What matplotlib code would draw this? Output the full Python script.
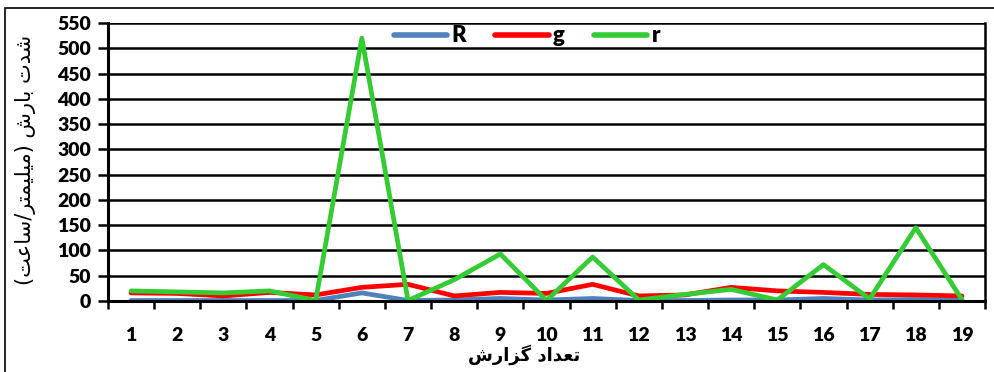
import matplotlib

matplotlib.use("Agg")
import matplotlib.pyplot as plt
from matplotlib.patches import Rectangle

# report numbers and three series
reports = list(range(1, 20))
R = [1, 1, 1, 1, 1, 16, 1, 2, 5, 2, 5, 1, 1, 2, 2, 5, 2, 3, 2]
g = [16, 15, 10, 17, 12, 27, 33, 10, 17, 15, 33, 10, 12, 27, 20, 17, 13, 12, 10]
r = [20, 18, 16, 20, 1, 520, 1, 42, 93, 1, 87, 2, 13, 23, 2, 72, 4, 145, 3]

y_label = "شدت بارش (میلیمتر/ساعت)"
x_label = "تعداد گزارش"

# Arabic presentation forms: isolated, final, initial, medial
FORMS = {
    "ا": ("\uFE8D", "\uFE8E", None, None),
    "ب": ("\uFE8F", "\uFE90", "\uFE91", "\uFE92"),
    "ت": ("\uFE95", "\uFE96", "\uFE97", "\uFE98"),
    "د": ("\uFEA9", "\uFEAA", None, None),
    "ر": ("\uFEAD", "\uFEAE", None, None),
    "ز": ("\uFEAF", "\uFEB0", None, None),
    "س": ("\uFEB1", "\uFEB2", "\uFEB3", "\uFEB4"),
    "ش": ("\uFEB5", "\uFEB6", "\uFEB7", "\uFEB8"),
    "ع": ("\uFEC9", "\uFECA", "\uFECB", "\uFECC"),
    "ل": ("\uFEDD", "\uFEDE", "\uFEDF", "\uFEE0"),
    "م": ("\uFEE1", "\uFEE2", "\uFEE3", "\uFEE4"),
    "ی": ("\uFBFC", "\uFBFD", "\uFBFE", "\uFBFF"),
    "گ": ("\uFB92", "\uFB93", "\uFB94", "\uFB95"),
}
MIRROR = {"(": ")", ")": "("}


def shape_rtl(text):
    out = []
    for i, ch in enumerate(text):
        if ch not in FORMS:
            out.append(MIRROR.get(ch, ch))
            continue
        prev = text[i - 1] if i > 0 else ""
        nxt = text[i + 1] if i + 1 < len(text) else ""
        join_prev = prev in FORMS and FORMS[prev][2] is not None
        join_next = nxt in FORMS and FORMS[ch][2] is not None
        isol, fin, ini, med = FORMS[ch]
        if join_prev and join_next:
            out.append(med)
        elif join_prev:
            out.append(fin)
        elif join_next:
            out.append(ini)
        else:
            out.append(isol)
    return "".join(reversed(out))


plt.rcParams["font.family"] = ["Lato", "DejaVu Sans"]

fig = plt.figure(figsize=(9.95, 3.72), dpi=100)
ax = fig.add_axes([108 / 995, 1 - 301 / 372, 877 / 995, 278 / 372])

ax.plot(reports, R, color="#4F81BD", linewidth=3.4, label="R", solid_capstyle="round")
ax.plot(reports, g, color="#FF0000", linewidth=3.4, label="g", solid_capstyle="round")
ax.plot(reports, r, color="#33CC33", linewidth=3.4, label="r", solid_capstyle="round")

ax.set_xlim(0.5, 19.5)
ax.set_ylim(0, 550)
ax.set_yticks(range(0, 551, 50))
ax.set_xticks(reports)
ax.set_xticks([k + 0.5 for k in range(0, 20)], minor=True)
ax.tick_params(axis="x", which="major", length=0, pad=19, labelsize=14)
ax.tick_params(axis="x", which="minor", length=6, width=1.8, direction="out")
ax.tick_params(axis="y", length=7, width=1.8, direction="out", labelsize=14, pad=5)
for lab in ax.get_xticklabels() + ax.get_yticklabels():
    lab.set_fontweight("heavy")

ax.grid(axis="y", color="black", linewidth=1.8)
ax.set_axisbelow(True)
ax.spines["top"].set_visible(False)
ax.spines["left"].set_linewidth(2.2)
ax.spines["bottom"].set_linewidth(2.2)
ax.spines["right"].set_linewidth(1.8)

leg = ax.legend(loc="center", bbox_to_anchor=(527 / 995, 1 - 36 / 372),
                bbox_transform=fig.transFigure, ncol=3, frameon=False,
                handlelength=2.4, columnspacing=1.3, handletextpad=0.2,
                prop={"weight": "heavy", "size": 16})
for line in leg.get_lines():
    line.set_linewidth(4)

fig.text(26 / 995, 1 - 160 / 372, shape_rtl(y_label), rotation=90,
         ha="center", va="center", fontsize=15, family="DejaVu Sans")
fig.text(524 / 995, 1 - 355 / 372, shape_rtl(x_label),
         ha="center", va="center", fontsize=13, fontweight="bold", family="DejaVu Sans")

fig.patches.append(Rectangle((5 / 995, -0.1), 1.2, 1 - 8 / 372 + 0.1,
                             transform=fig.transFigure, fill=False,
                             edgecolor="black", linewidth=1.2))

fig.savefig("out.png", dpi=100)
plt.close(fig)
